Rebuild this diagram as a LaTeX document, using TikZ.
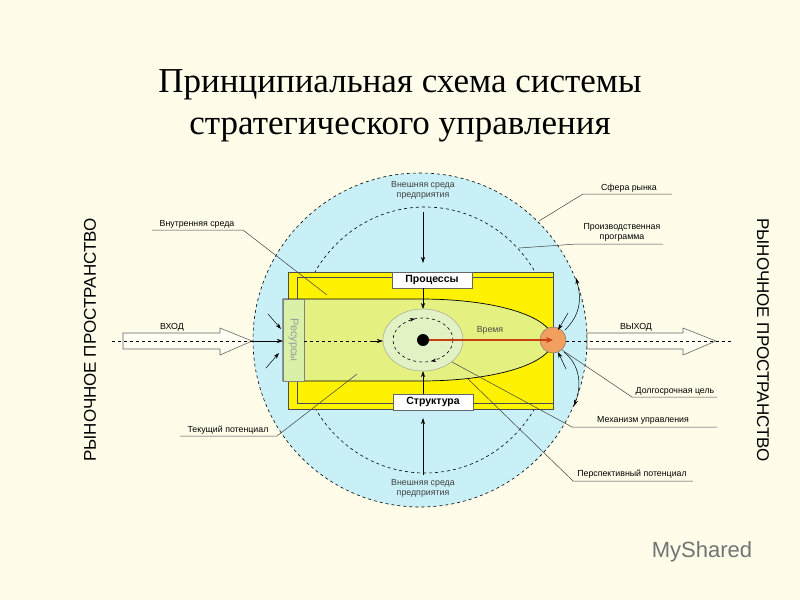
\documentclass[tikz,border=0pt]{standalone}
\usepackage{fontspec}
\setmainfont{Liberation Serif}
\newfontfamily\lsans{Liberation Sans}
\usetikzlibrary{arrows.meta,shapes.geometric,shapes.arrows,decorations.markings}
\definecolor{bg}{HTML}{FFFDEA}
\definecolor{sky}{HTML}{C8F0F6}
\definecolor{yel}{HTML}{FFF200}
\definecolor{pot}{HTML}{E4F080}
\definecolor{cell}{HTML}{E2F2C4}
\definecolor{res}{HTML}{D8F0A8}
\definecolor{goal}{HTML}{F2A060}
\definecolor{redar}{HTML}{C84010}
\tikzset{
 lab/.style={font=\lsans\fontsize{8.8}{10}\selectfont, inner sep=1pt},
 lead/.style={draw=black!75, line width=0.5pt},
 arr/.style={-{Stealth[length=6pt,width=4pt]}, line width=0.6pt},
 boxlab/.style={draw=black!60, fill=white, font=\lsans\bfseries\fontsize{10.5}{12}\selectfont, minimum width=80pt, minimum height=16pt, inner sep=0pt},
}
\begin{document}
\begin{tikzpicture}[x=1pt,y=-1pt]
\useasboundingbox (0,0) rectangle (800,600);
\fill[bg] (0,0) rectangle (800,600);
% title
\node[font=\fontsize{35}{42}\selectfont, align=center] (title) at (400,106) {Принципиальная схема системы\\стратегического управления};
% spheres
\draw[dashed, fill=sky, line width=0.6pt] (420,340) circle (167);
\draw[dashed, line width=0.6pt] (425,340) ellipse (128 and 133);
% yellow rect
\fill[yel, draw=black!70, line width=0.5pt] (288,272) rectangle (553,409);
\draw[black!70, line width=0.7pt] (553,277) -- (297,277) -- (297,403) -- (553,403);
% current potential shape
\draw[fill=pot, line width=0.7pt] (283,299) -- (420,299) .. controls (500,299) and (553,318) .. (553,340) .. controls (553,362) and (500,381) .. (420,381) -- (283,381) -- cycle;
% resources
\node[draw=black!50, fill=res, minimum width=21pt, minimum height=82pt, inner sep=0pt] (res) at (293.5,340) {};
\node[rotate=-90, font=\lsans\fontsize{11}{12}\selectfont, text=black!40] at (res) {Ресурсы};
% small ellipse
\node[draw=black!40, fill=cell, ellipse, minimum width=80pt, minimum height=62pt, inner sep=0pt] (cellE) at (423,340) {};
\draw[dashed, line width=0.6pt, postaction={decorate}, decoration={markings, mark=at position 0.2 with {\arrow{Stealth[length=5pt]}}, mark=at position 0.7 with {\arrow{Stealth[length=5pt]}}}] (423,340) ellipse (30 and 22);
% goal and time
\node[circle, draw=black!60, fill=goal, minimum size=26pt, inner sep=0pt] (goalC) at (553,340) {};
\node[circle, fill=black, minimum size=12pt, inner sep=0pt] (dot) at (423,340) {};
\draw[redar, line width=2pt, -{Stealth[length=7pt,width=6pt]}] (dot) -- (goalC.center);
\node[lab, text=black!70] (time) at (490,330) {Время};
% boxes
\node[boxlab] (proc) at (432,280) {Процессы};
\node[boxlab] (str) at (433,402) {Структура};
% vertical arrows
\node[lab, align=center, text=black!75] (extT) at (423,190) {Внешняя среда\\предприятия};
\node[lab, align=center, text=black!75] (extB) at (423,488) {Внешняя среда\\предприятия};
\coordinate (t1) at (423,212); \coordinate (t2) at (423,263);
\draw[arr] (t1) -- (t2);
\draw[arr] (423,288) -- (423,309);
\draw[arr] (423,475) -- (423,418);
\draw[arr] (423,394) -- (423,371);
% input arrow
\draw[fill=bg!60!white, draw=black!60, line width=0.6pt] (123,333) -- (220,333) -- (220,328) -- (252,341) -- (220,355) -- (220,349) -- (123,349) -- cycle;
\draw[dashed, line width=0.6pt] (112,341) -- (253,341);
\draw[arr] (253,341) -- (283,341);
\draw[dashed, line width=0.6pt] (304,341) -- (375,341);
\draw[arr] (370,341) -- (383,341);
\node[lab] (inL) at (172,327) {ВХОД};
\draw[arr, line width=0.5pt] (268,314) -- (281,329);
\draw[arr, line width=0.5pt] (266,368) -- (279,353);
% output arrow
\draw[fill=bg!60!white, draw=black!60, line width=0.6pt] (587,333) -- (683,333) -- (683,328) -- (716,341) -- (683,355) -- (683,349) -- (587,349) -- cycle;
\draw[dashed, line width=0.6pt] (566,341) -- (733,341);
\node[lab] (outL) at (636,327) {ВЫХОД};
\draw[arr, line width=0.5pt] (565,330) .. controls (580,315) and (582,300) .. (576,278);
\draw[arr, line width=0.5pt] (564,352) .. controls (580,365) and (582,385) .. (574,406);
\draw[arr, line width=0.5pt] (568,313) -- (558,330);
\draw[arr, line width=0.5pt] (566,369) -- (558,352);
% leaders
\node[lab, anchor=south] (l1) at (197,230) {Внутренняя среда};
\draw[lead] (152,230) -- (243,230) -- (327,295);
\node[lab, anchor=south] (l2) at (228,436) {Текущий потенциал};
\draw[lead] (180,436) -- (277,436) -- (357,374);
\node[lab, anchor=south] (l3) at (629,194) {Сфера рынка};
\draw[lead] (672,194) -- (583,194) -- (539,221);
\node[lab, anchor=south, align=center] (l4) at (622,243) {Производственная\\программа};
\draw[lead] (663,244) -- (577,244) -- (519,248);
\node[lab, anchor=south] (l5) at (675,397) {Долгосрочная цель};
\draw[lead] (717,397) -- (632,397) -- (562,350);
\node[lab, anchor=south] (l6) at (643,426) {Механизм управления};
\draw[lead] (717,427) -- (572,427) -- (452,362);
\node[lab, anchor=south] (l7) at (632,480) {Перспективный потенциал};
\draw[lead] (693,481) -- (573,481) -- (467,378);
% side texts
\node[rotate=90, font=\lsans\fontsize{17}{18}\selectfont] (sL) at (90,340) {РЫНОЧНОЕ ПРОСТРАНСТВО};
\node[rotate=-90, font=\lsans\fontsize{17}{18}\selectfont] (sR) at (763,340) {РЫНОЧНОЕ ПРОСТРАНСТВО};
% watermark
\node[font=\lsans\fontsize{22}{24}\selectfont, text=black!55] (wm) at (702,552) {MyShared};
\end{tikzpicture}
\end{document}
